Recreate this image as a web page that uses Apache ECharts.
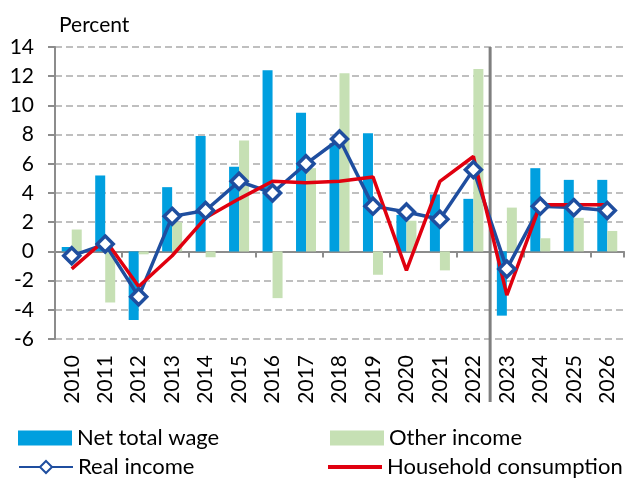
<!DOCTYPE html>
<html>
<head>
<meta charset="utf-8">
<script src="https://cdn.jsdelivr.net/npm/echarts@6/dist/echarts.min.js"></script>
<style>
  html, body { margin: 0; padding: 0; background: #fff; }
  #chart { width: 627px; height: 478px; }
</style>
</head>
<body>
<div id="chart"></div>
<script>
const years = ['2010', '2011', '2012', '2013', '2014', '2015', '2016', '2017', '2018',
  '2019', '2020', '2021', '2022', '2023', '2024', '2025', '2026']
const netWage = [0.3, 5.2, -4.7, 4.4, 7.9, 5.8, 12.4, 9.5, 7.4, 8.1, 2.5, 3.9, 3.6, -4.4, 5.7, 4.9, 4.9]
const otherIncome = [1.5, -3.5, -0.2, 2.0, -0.4, 7.6, -3.2, 5.7, 12.2, -1.6, 2.1, -1.3, 12.5, 3.0, 0.9, 2.3, 1.4]
const realIncome = [-0.3, 0.5, -3.1, 2.4, 2.8, 4.8, 4.0, 6.0, 7.7, 3.1, 2.7, 2.2, 5.6, -1.2, 3.1, 3.0, 2.8]
const consumption = [-1.2, 0.8, -2.4, -0.3, 2.3, 3.6, 4.8, 4.7, 4.8, 5.1, -1.3, 4.8, 6.5, -3.0, 3.2, 3.2, 3.2]
// forecast starts after this many categories
const forecastSplit = 13

const font = 'Lato'
const chart = echarts.init(document.getElementById('chart'))

// one legend per item so the 2x2 layout is fixed
const legendItem = (name, left, top, extra) => Object.assign({
  left: left,
  top: top,
  padding: 0,
  data: [name],
  itemWidth: 54,
  itemHeight: 15,
  textStyle: { fontSize: 22, fontFamily: font, color: '#000' }
}, extra || {})

const option = {
  animation: false,
  title: {
    text: 'Percent',
    left: 54,
    top: 10,
    textStyle: { fontSize: 21, fontWeight: 'normal', fontFamily: font, color: '#000' }
  },
  legend: [
    legendItem('Net total wage', 18, 427, { icon: 'rect' }),
    legendItem('Other income', 330, 427, { icon: 'rect' }),
    legendItem('Real income', 18, 456),
    legendItem('Household consumption', 328, 456, { icon: 'rect', itemHeight: 4 })
  ],
  grid: { left: 55, right: 3, top: 47, bottom: 139 },
  xAxis: [
    {
      type: 'category',
      data: years,
      position: 'bottom',
      axisLine: { show: false, onZero: false },
      axisTick: { show: false },
      axisLabel: { rotate: 90, margin: 16, fontSize: 21, fontFamily: font, color: '#000' }
    },
    {
      type: 'category',
      data: years,
      position: 'bottom',
      axisLine: { onZero: true, lineStyle: { color: '#8c8c8c', width: 2 } },
      axisTick: { show: true, length: 6, lineStyle: { color: '#8c8c8c', width: 2 } },
      axisLabel: { show: false }
    },
    { type: 'value', min: 0, max: years.length, show: false }
  ],
  yAxis: {
    type: 'value',
    min: -6,
    max: 14,
    interval: 2,
    axisLine: { show: true, onZero: false, lineStyle: { color: '#8c8c8c', width: 2 } },
    axisTick: { show: true, length: 7, lineStyle: { color: '#8c8c8c', width: 2 } },
    axisLabel: { margin: 21, fontSize: 21, fontFamily: font, color: '#000' },
    splitLine: { lineStyle: { color: '#bfbfbf', type: [7, 4], width: 2 } }
  },
  series: [
    {
      name: 'Net total wage',
      type: 'bar',
      data: netWage,
      barWidth: 10,
      barGap: '0%',
      itemStyle: { color: '#009fdf' }
    },
    {
      name: 'Other income',
      type: 'bar',
      data: otherIncome,
      barWidth: 10,
      itemStyle: { color: '#c6e0b4' }
    },
    {
      name: 'Real income',
      type: 'line',
      data: realIncome,
      symbol: 'diamond',
      symbolSize: 16,
      lineStyle: { color: '#1f4e9f', width: 3.5 },
      itemStyle: { color: '#fff', borderColor: '#1f4e9f', borderWidth: 3.5 }
    },
    {
      name: 'Household consumption',
      type: 'line',
      data: consumption,
      symbol: 'none',
      lineStyle: { color: '#e0000f', width: 3.5 },
      itemStyle: { color: '#e0000f' }
    }
  ]
}

chart.setOption(option)

// vertical separator between history and forecast, extended through the labels
const sx = chart.convertToPixel({ xAxisIndex: 2 }, forecastSplit)
const sTop = chart.convertToPixel({ yAxisIndex: 0 }, 14)
chart.setOption({
  graphic: [{
    type: 'line',
    shape: { x1: sx, y1: sTop, x2: sx, y2: 402 },
    style: { stroke: '#7f7f7f', lineWidth: 3 },
    z: 1
  }]
})
</script>
</body>
</html>
